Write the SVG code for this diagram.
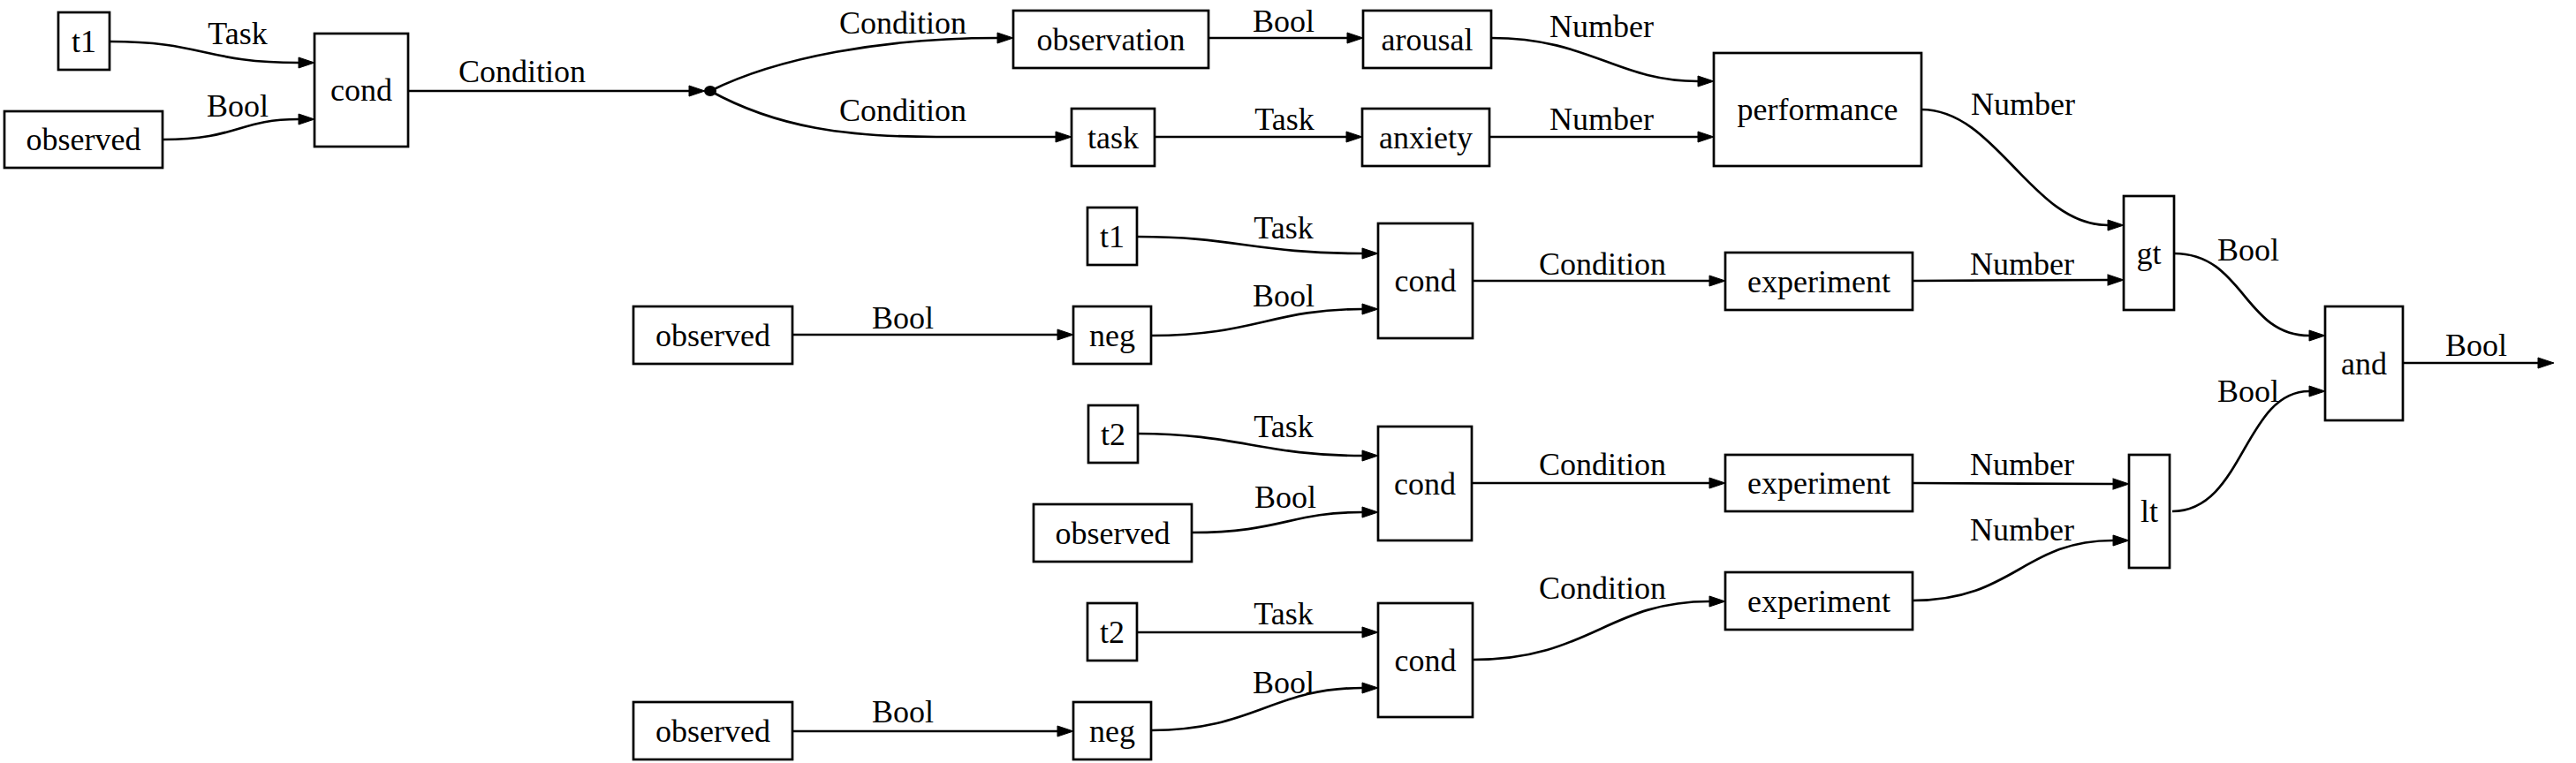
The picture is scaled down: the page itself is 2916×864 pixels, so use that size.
<svg xmlns="http://www.w3.org/2000/svg" width="2916" height="864" viewBox="0 0 2916 864">
<style>
.n rect{fill:#fff;stroke:#000;stroke-width:2.7}
text{font-family:"Liberation Serif","Times New Roman",serif;font-size:36px;fill:#000;text-anchor:middle}
.e path{fill:none;stroke:#000;stroke-width:2.7;marker-end:url(#arr)}
</style>
<defs>
<marker id="arr" markerUnits="userSpaceOnUse" viewBox="0 -7 19 14" markerWidth="19" markerHeight="14" refX="0" refY="0" orient="auto" overflow="visible">
<path d="M0,-6 L18,0 L0,6 z" fill="#000" stroke="#000" stroke-width="1"/>
</marker>
</defs>
<rect width="2916" height="864" fill="#fff"/>
<g id="edges" class="e">
<path d="M124,47 C231,47 231,71 338,71"/>
<path d="M184,158 C270,158 270,135 338,135"/>
<path d="M462,103 L780,103"/>
<path d="M804,103 C880,65 1000,43 1129,43"/>
<path d="M804,103 C880,145 960,155 1060,155 L1195,155"/>
<path d="M1368,43 L1525,43"/>
<path d="M1307,155 L1524,155"/>
<path d="M1688,43 C1800,43 1830,92 1922,92"/>
<path d="M1686,155 L1922,155"/>
<path d="M2175,124 C2260,124 2300,255 2386,255"/>
<path d="M1287,268 C1400,268 1420,287 1542,287"/>
<path d="M897,379 L1197,379"/>
<path d="M1303,380 C1420,380 1440,350 1542,350"/>
<path d="M1667,318 L1935,318"/>
<path d="M2165,318 L2386,317"/>
<path d="M2461,287 C2540,287 2540,380 2614,380"/>
<path d="M2720,411 L2873,411"/>
<path d="M2459,579 C2540,579 2540,443 2614,443"/>
<path d="M1288,491 C1400,491 1430,516 1542,516"/>
<path d="M1349,603 C1450,603 1460,580 1542,580"/>
<path d="M1666,547 L1935,547"/>
<path d="M2165,547 L2392,548"/>
<path d="M1287,716 L1542,716"/>
<path d="M897,828 L1197,828"/>
<path d="M1303,827 C1420,827 1440,779 1542,779"/>
<path d="M1667,747 C1800,747 1820,681 1935,681"/>
<path d="M2165,680 C2280,680 2290,612 2392,612"/>
</g>
<g id="edge-labels">
<text x="269" y="50">Task</text>
<text x="269" y="132">Bool</text>
<text x="591" y="93">Condition</text>
<text x="1022" y="38">Condition</text>
<text x="1022" y="137">Condition</text>
<text x="1453" y="36">Bool</text>
<text x="1454" y="147">Task</text>
<text x="1813" y="42">Number</text>
<text x="1813" y="147">Number</text>
<text x="2290" y="130">Number</text>
<text x="2545" y="295">Bool</text>
<text x="2803" y="403">Bool</text>
<text x="2545" y="455">Bool</text>
<text x="1453" y="270">Task</text>
<text x="1022" y="372">Bool</text>
<text x="1453" y="347">Bool</text>
<text x="1814" y="311">Condition</text>
<text x="2289" y="311">Number</text>
<text x="1453" y="495">Task</text>
<text x="1455" y="575">Bool</text>
<text x="1814" y="538">Condition</text>
<text x="2289" y="538">Number</text>
<text x="1453" y="707">Task</text>
<text x="1022" y="818">Bool</text>
<text x="1453" y="785">Bool</text>
<text x="1814" y="678">Condition</text>
<text x="2289" y="612">Number</text>
</g>
<g id="junction"><ellipse cx="804" cy="103" rx="7" ry="6" fill="#000"/></g>
<g id="t1_a" class="n"><rect x="66" y="14" width="58" height="65"/><text x="95" y="59">t1</text></g>
<g id="observed_a" class="n"><rect x="5" y="126" width="179" height="64"/><text x="94.5" y="170">observed</text></g>
<g id="cond_a" class="n"><rect x="356" y="38" width="106" height="128"/><text x="409" y="114">cond</text></g>
<g id="observation" class="n"><rect x="1147" y="12" width="221" height="65"/><text x="1257.5" y="57">observation</text></g>
<g id="task" class="n"><rect x="1213" y="123" width="94" height="65"/><text x="1260" y="168">task</text></g>
<g id="arousal" class="n"><rect x="1543" y="12" width="145" height="65"/><text x="1615.5" y="57">arousal</text></g>
<g id="anxiety" class="n"><rect x="1542" y="123" width="144" height="65"/><text x="1614" y="168">anxiety</text></g>
<g id="performance" class="n"><rect x="1940" y="60" width="235" height="128"/><text x="2057.5" y="136">performance</text></g>
<g id="gt" class="n"><rect x="2404" y="222" width="57" height="129"/><text x="2432.5" y="299">gt</text></g>
<g id="and" class="n"><rect x="2632" y="347" width="88" height="129"/><text x="2676" y="424">and</text></g>
<g id="lt" class="n"><rect x="2410" y="515" width="46" height="128"/><text x="2433" y="591">lt</text></g>
<g id="t1_b" class="n"><rect x="1231" y="235" width="56" height="65"/><text x="1259" y="280">t1</text></g>
<g id="observed_b" class="n"><rect x="717" y="347" width="180" height="65"/><text x="807" y="392">observed</text></g>
<g id="neg_b" class="n"><rect x="1215" y="347" width="88" height="65"/><text x="1259" y="392">neg</text></g>
<g id="cond_b" class="n"><rect x="1560" y="253" width="107" height="130"/><text x="1613.5" y="330">cond</text></g>
<g id="experiment_b" class="n"><rect x="1953" y="286" width="212" height="65"/><text x="2059" y="331">experiment</text></g>
<g id="t2_c" class="n"><rect x="1232" y="459" width="56" height="65"/><text x="1260" y="504">t2</text></g>
<g id="observed_c" class="n"><rect x="1170" y="571" width="179" height="65"/><text x="1259.5" y="616">observed</text></g>
<g id="cond_c" class="n"><rect x="1560" y="483" width="106" height="129"/><text x="1613" y="560">cond</text></g>
<g id="experiment_c" class="n"><rect x="1953" y="515" width="212" height="64"/><text x="2059" y="559">experiment</text></g>
<g id="t2_d" class="n"><rect x="1231" y="683" width="56" height="65"/><text x="1259" y="728">t2</text></g>
<g id="observed_d" class="n"><rect x="717" y="795" width="180" height="65"/><text x="807" y="840">observed</text></g>
<g id="neg_d" class="n"><rect x="1215" y="795" width="88" height="65"/><text x="1259" y="840">neg</text></g>
<g id="cond_d" class="n"><rect x="1560" y="683" width="107" height="129"/><text x="1613.5" y="760">cond</text></g>
<g id="experiment_d" class="n"><rect x="1953" y="648" width="212" height="65"/><text x="2059" y="693">experiment</text></g>
</svg>
